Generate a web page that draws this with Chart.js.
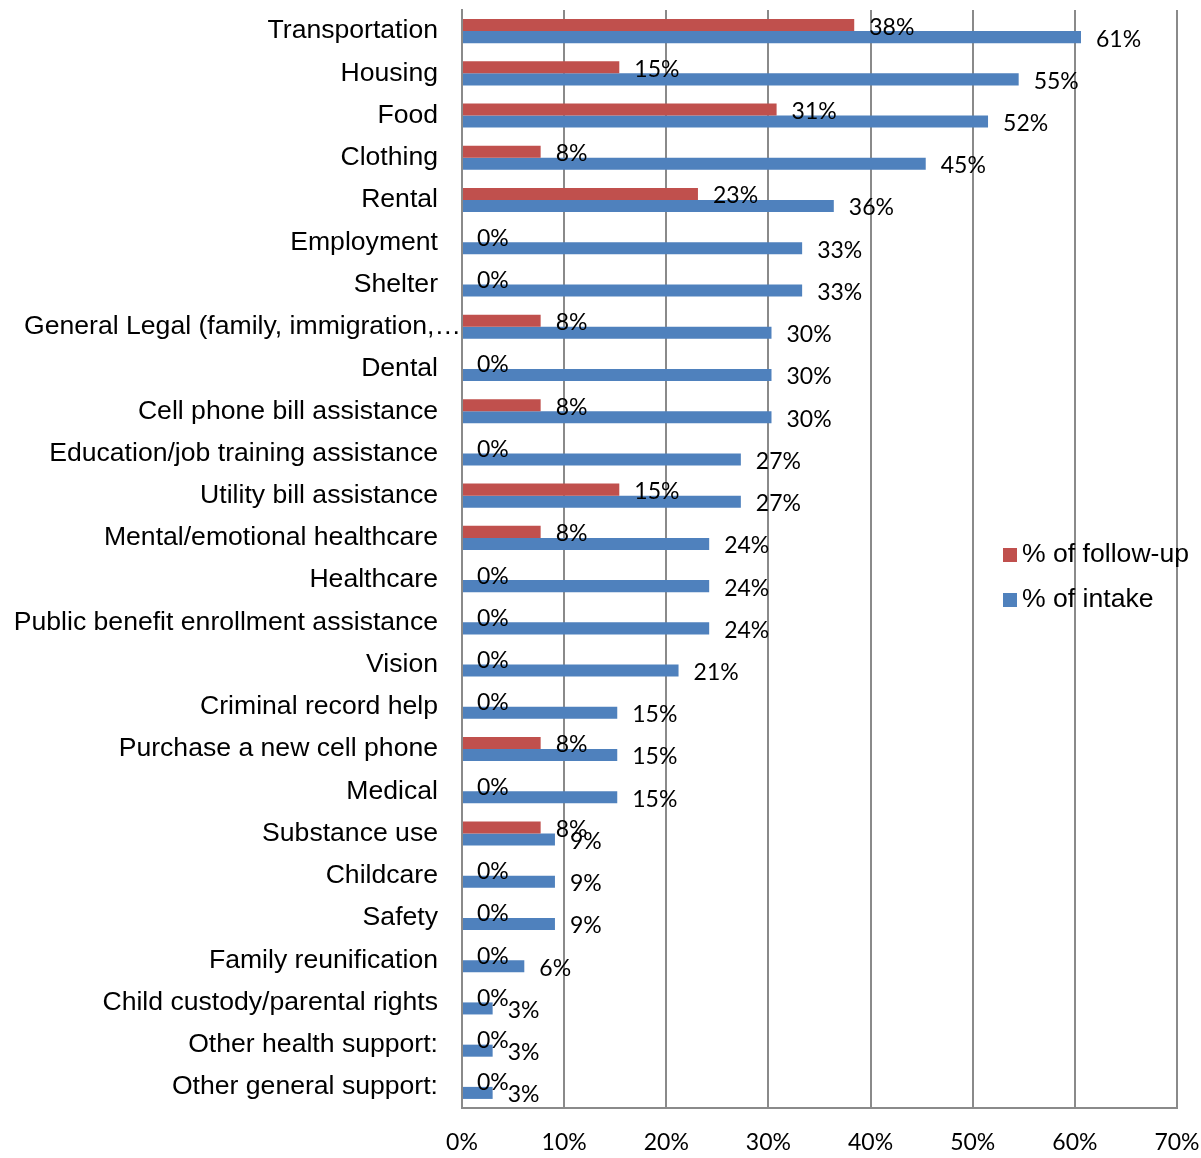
<!DOCTYPE html>
<html>
<head>
<meta charset="utf-8">
<style>
  body { margin: 0; background: #fff; }
  #wrap { width: 1201px; height: 1158px; }
</style>
<script src="https://cdn.jsdelivr.net/npm/chart.js@4.4.0/dist/chart.umd.min.js"></script>
</head>
<body>
<div id="wrap"><canvas id="needsChart" width="1201" height="1158"></canvas></div>
<script>
const categories = [
    'Transportation', 'Housing', 'Food', 'Clothing', 'Rental', 'Employment', 'Shelter',
    'General Legal (family, immigration,\u2026', 'Dental', 'Cell phone bill assistance',
    'Education/job training assistance', 'Utility bill assistance', 'Mental/emotional healthcare',
    'Healthcare', 'Public benefit enrollment assistance', 'Vision', 'Criminal record help',
    'Purchase a new cell phone', 'Medical', 'Substance use', 'Childcare', 'Safety',
    'Family reunification', 'Child custody/parental rights', 'Other health support:',
    'Other general support:'
];
const followUp = [38.4, 15.4, 30.8, 7.7, 23.1, 0, 0, 7.7, 0, 7.7, 0, 15.4, 7.7, 0, 0, 0, 0, 7.7, 0, 7.7, 0, 0, 0, 0, 0, 0];
const intake = [60.6, 54.5, 51.5, 45.4, 36.4, 33.3, 33.3, 30.3, 30.3, 30.3, 27.3, 27.3, 24.2, 24.2, 24.2, 21.2, 15.2, 15.2, 15.2, 9.1, 9.1, 9.1, 6.1, 3.0, 3.0, 3.0];
const seriesNames = ['% of follow-up', '% of intake'];
const seriesColors = ['#C0504D', '#4F81BD'];
const xTicks = [0, 10, 20, 30, 40, 50, 60, 70];

const gridColor = '#8a8a8a';
const arialFont = '26.6px "Liberation Sans", Arial, sans-serif';
const labelFont = '23px Lato, "Open Sans", sans-serif';

// category names, value labels and legend drawn on the canvas
const extrasPlugin = {
    id: 'extras',
    afterDraw(chart) {
        const ctx = chart.ctx;
        const area = chart.chartArea;
        const yScale = chart.scales.y;
        ctx.save();

        ctx.fillStyle = '#000';
        ctx.font = arialFont;
        ctx.textAlign = 'right';
        ctx.textBaseline = 'middle';
        categories.forEach((name, i) => {
            const y = yScale.getPixelForValue(i);
            const x = name.endsWith('\u2026') ? area.left - 1 : area.left - 24;
            ctx.fillText(name, x, y);
        });

        ctx.font = labelFont;
        ctx.textAlign = 'left';
        chart.data.datasets.forEach((ds, di) => {
            chart.getDatasetMeta(di).data.forEach((bar, i) => {
                ctx.fillText(Math.round(ds.data[i]) + '%', bar.x + 15, bar.y + 2);
            });
        });

        ctx.font = arialFont;
        seriesNames.forEach((name, i) => {
            const top = 548 + i * 45;
            ctx.fillStyle = seriesColors[i];
            ctx.fillRect(1003, top, 14, 14);
            ctx.fillStyle = '#000';
            ctx.fillText(name, 1022, top + 7);
        });
        ctx.restore();
    }
};

function initChart() {
    const ctx = document.getElementById('needsChart').getContext('2d');
    new Chart(ctx, {
        type: 'bar',
        data: {
            labels: categories,
            datasets: [
                { label: seriesNames[0], data: followUp, backgroundColor: seriesColors[0] },
                { label: seriesNames[1], data: intake, backgroundColor: seriesColors[1] }
            ]
        },
        options: {
            indexAxis: 'y',
            responsive: false,
            animation: false,
            categoryPercentage: 0.57,
            barPercentage: 1,
            layout: { padding: { top: 10, right: 24, bottom: 0, left: 0 } },
            plugins: {
                legend: { display: false },
                tooltip: { enabled: false }
            },
            scales: {
                x: {
                    min: 0,
                    max: 70,
                    z: 1,
                    afterBuildTicks: s => { s.ticks = xTicks.map(v => ({ value: v })); },
                    afterFit: s => {
                        s.height = 50;
                        s.paddingLeft = 0;
                        s.paddingRight = 0;
                    },
                    grid: { color: gridColor, lineWidth: 2, drawTicks: false },
                    border: { color: gridColor, width: 2 },
                    ticks: {
                        padding: 21,
                        color: '#000',
                        font: { family: 'Lato, "Open Sans", sans-serif', size: 23 },
                        callback: v => v + '%'
                    }
                },
                y: {
                    afterFit: s => { s.width = 462; },
                    grid: { display: false },
                    border: { color: gridColor, width: 2 },
                    ticks: { display: false }
                }
            }
        },
        plugins: [extrasPlugin]
    });
}

document.addEventListener('DOMContentLoaded', initChart);
</script>
</body>
</html>
